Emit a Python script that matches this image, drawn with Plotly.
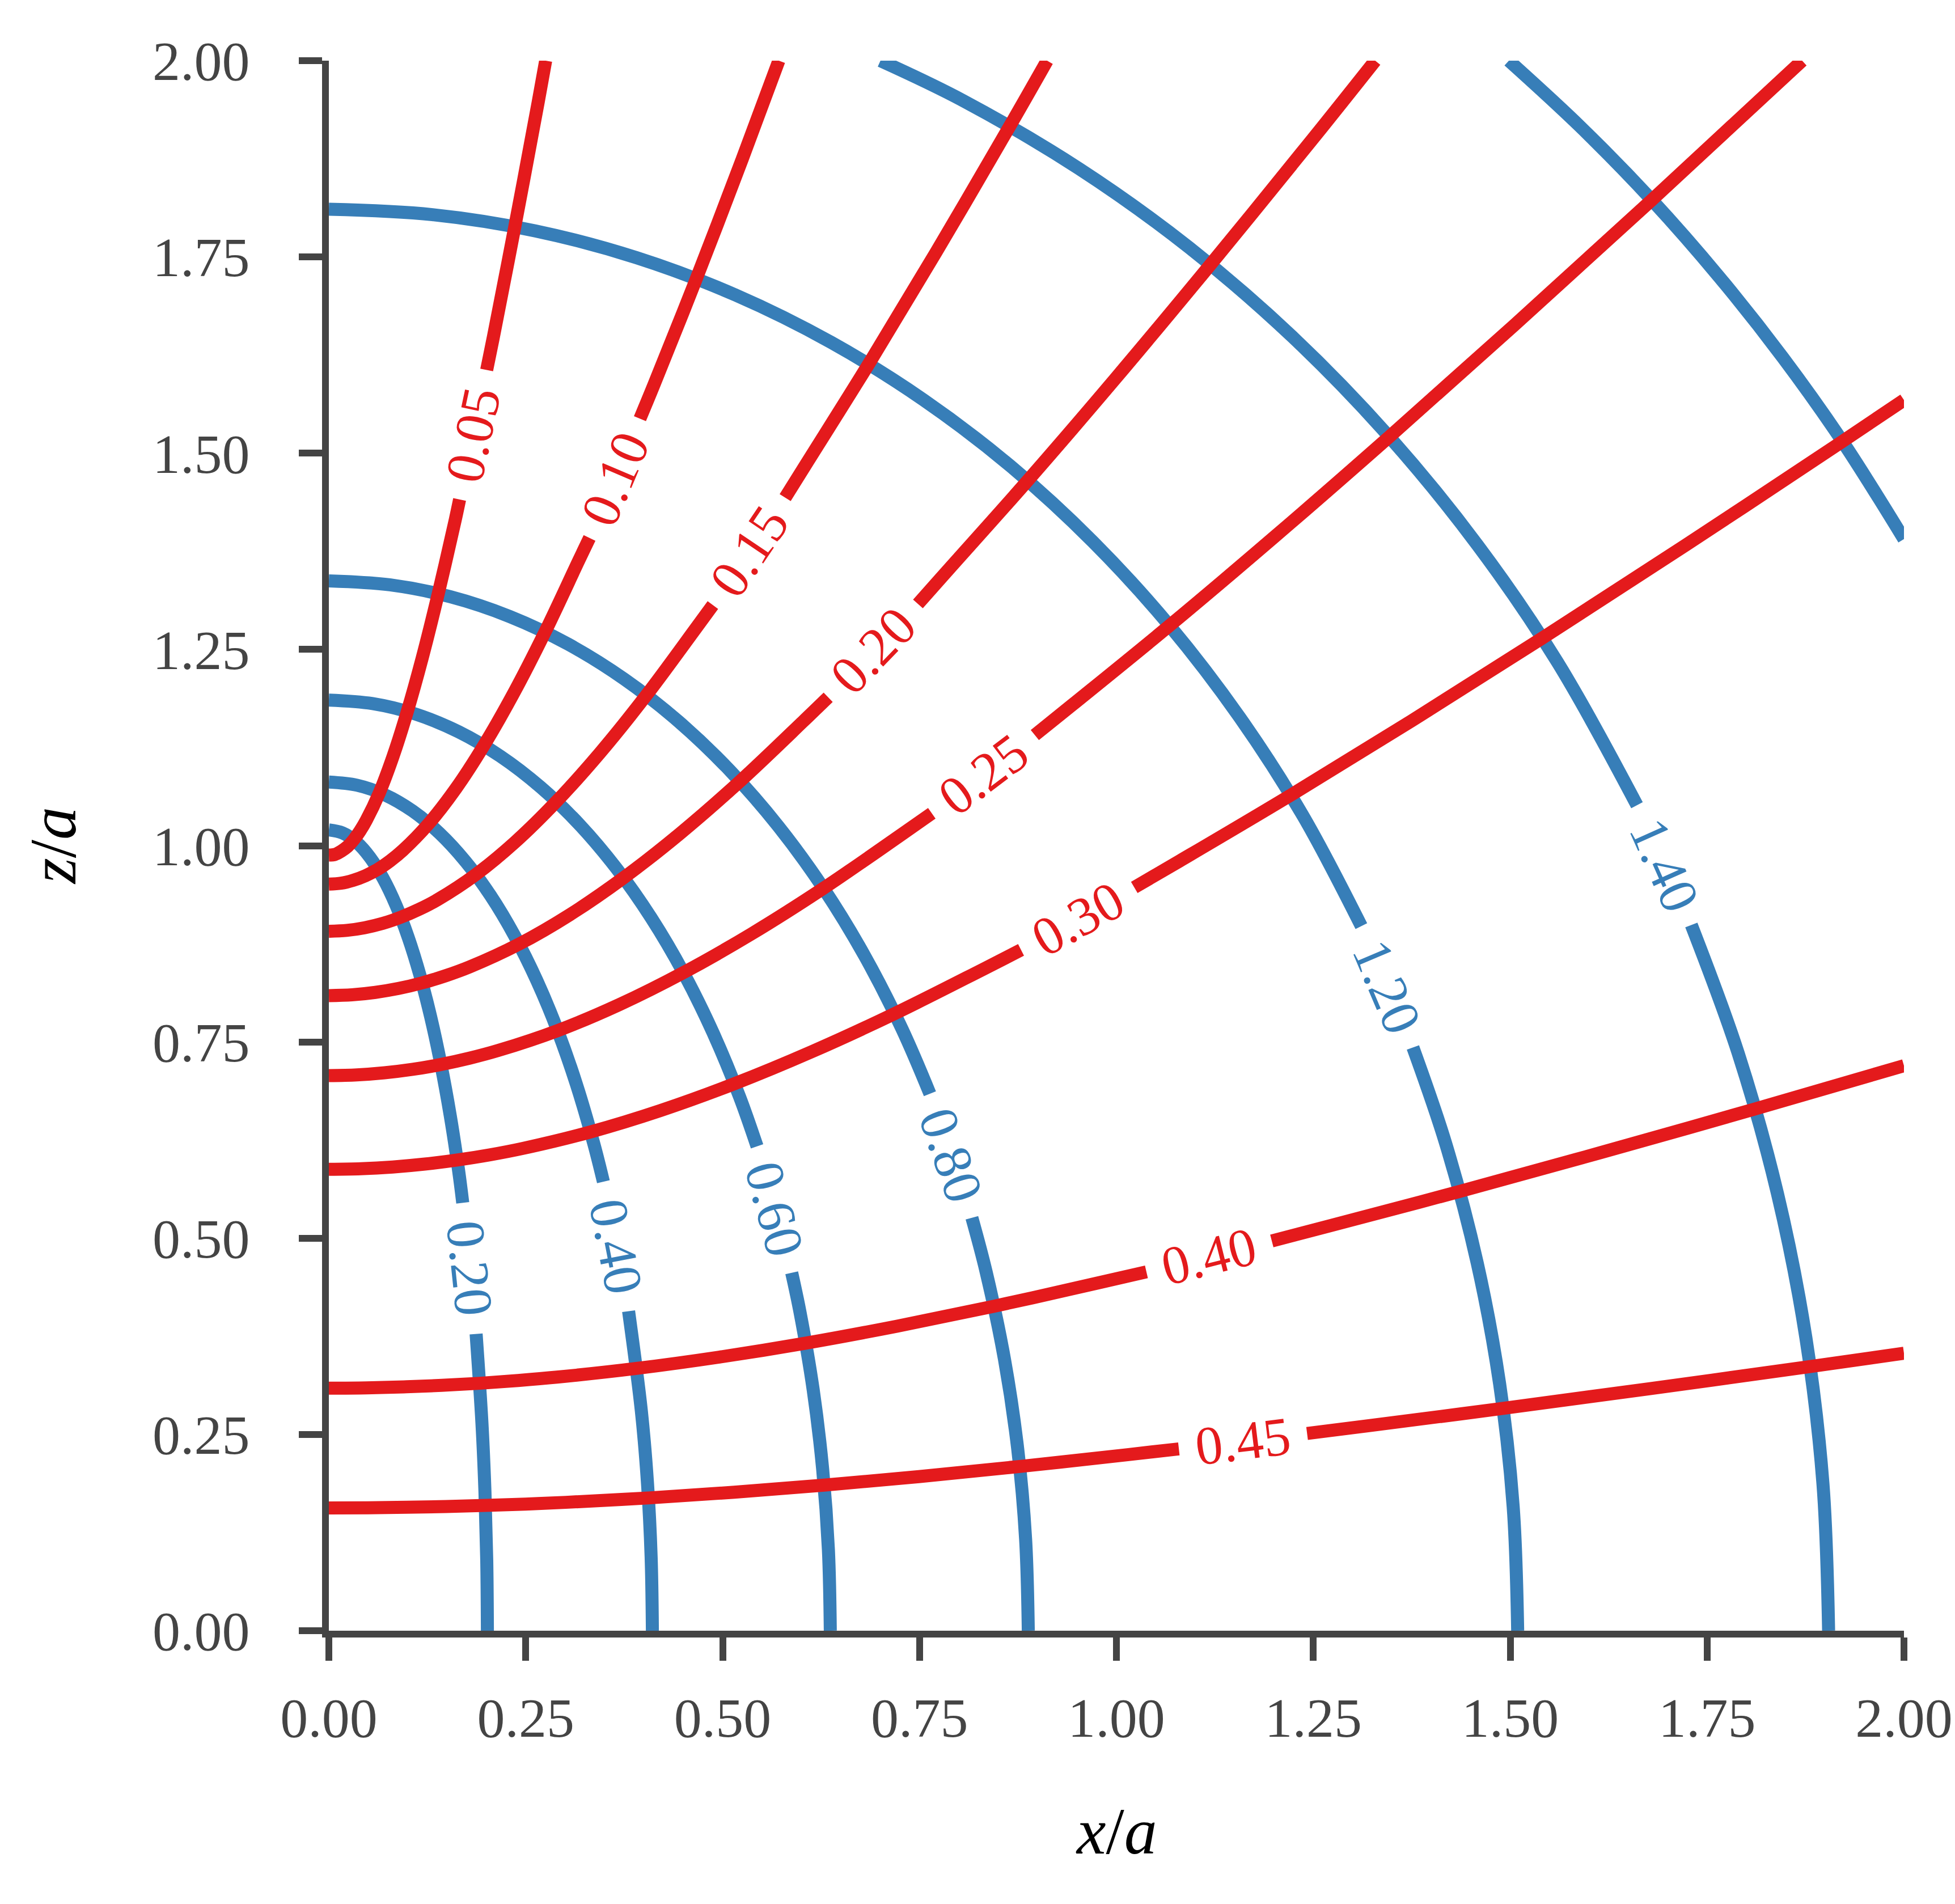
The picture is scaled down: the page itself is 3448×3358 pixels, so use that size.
import plotly.graph_objects as go

# couleurs des deux familles de courbes
RED = "#e41a1c"
BLUE = "#377eb8"
AXIS = "#444444"
FONT = "Liberation Serif, Times New Roman, serif"

# --- courbes rouges, None = trou pour l'étiquette ---
red_005_x = [0, 0.0078, 0.0157, 0.0236, 0.0315, 0.0395, 0.0476, 0.0643, 0.0815, 0.0996, 0.1187, 0.1389, 0.1606, 0.166, None, 0.2004, 0.2089, 0.2361, 0.2657, 0.2753]
red_005_z = [0.988, 0.9889, 0.993, 0.9988, 1.0075, 1.0187, 1.0325, 1.0678, 1.1137, 1.1709, 1.2397, 1.3210, 1.4155, 1.441, None, 1.606, 1.6480, 1.7884, 1.9467, 2.0]

red_010_x = [0, 0.0155, 0.031, 0.0465, 0.0622, 0.0781, 0.0941, 0.1269, 0.1610, 0.1967, 0.2344, 0.2744, 0.3172, 0.331, None, 0.395, 0.4127, 0.4665, 0.5248, 0.5714]
red_010_z = [0.951, 0.9522, 0.956, 0.9618, 0.970, 0.9809, 0.9942, 1.0282, 1.0724, 1.1275, 1.1937, 1.2720, 1.3630, 1.392, None, 1.544, 1.5869, 1.7220, 1.8744, 2.0]

red_015_x = [0, 0.0227, 0.0455, 0.0684, 0.0914, 0.1147, 0.1383, 0.1865, 0.2366, 0.2890, 0.3444, 0.4032, 0.4660, 0.4876, None, 0.5794, 0.6064, 0.6853, 0.7711, 0.8645, 0.912]
red_015_z = [0.891, 0.8921, 0.8955, 0.9010, 0.9089, 0.9190, 0.9314, 0.9632, 1.0047, 1.0563, 1.1184, 1.1917, 1.2769, 1.3065, None, 1.4434, 1.4867, 1.6133, 1.7561, 1.9165, 2.0]

red_020_x = [0, 0.0294, 0.0589, 0.0885, 0.1183, 0.1485, 0.1790, 0.2414, 0.3063, 0.3742, 0.4459, 0.5220, 0.6034, 0.634, None, 0.748, 0.7851, 0.8872, 0.9983, 1.1193, 1.2516, 1.3286]
red_020_z = [0.809, 0.8100, 0.8131, 0.8181, 0.8252, 0.8344, 0.8457, 0.8746, 0.9123, 0.9591, 1.0155, 1.0820, 1.1594, 1.189, None, 1.308, 1.3499, 1.4649, 1.5945, 1.7401, 1.9032, 2.0]

red_025_x = [0, 0.0354, 0.0708, 0.1065, 0.1424, 0.1786, 0.2153, 0.2904, 0.3685, 0.4502, 0.5364, 0.6280, 0.7259, 0.7656, None, 0.8964, 0.9445, 1.0674, 1.2009, 1.3465, 1.5056, 1.6798, 1.8707]
red_025_z = [0.7071, 0.7080, 0.7107, 0.7151, 0.7213, 0.7293, 0.7392, 0.7644, 0.7974, 0.8383, 0.8875, 0.9457, 1.0134, 1.0413, None, 1.1409, 1.1798, 1.2803, 1.3936, 1.5209, 1.6634, 1.8225, 2.0]

red_030_x = [0, 0.0405, 0.0810, 0.1218, 0.1629, 0.2044, 0.2464, 0.3323, 0.4216, 0.5151, 0.6137, 0.7185, 0.8305, 0.8789, None, 1.0227, 1.0806, 1.2212, 1.3740, 1.5406, 1.7226, 1.9219, 2.0]
red_030_z = [0.5878, 0.5885, 0.5907, 0.5944, 0.5996, 0.6062, 0.6144, 0.6354, 0.6628, 0.6968, 0.7378, 0.7861, 0.8424, 0.8672, None, 0.9468, 0.9807, 1.0643, 1.1585, 1.2643, 1.3827, 1.5150, 1.5677]

red_040_x = [0, 0.0476, 0.0953, 0.1432, 0.1915, 0.2402, 0.2896, 0.3906, 0.4956, 0.6055, 0.7214, 0.8446, 0.9763, 1.0381, None, 1.1973, 1.2703, 1.4356, 1.6153, 1.8111, 2.0]
red_040_z = [0.309, 0.3094, 0.3106, 0.3125, 0.3152, 0.3187, 0.3230, 0.3341, 0.3485, 0.3663, 0.3879, 0.4133, 0.4429, 0.4571, None, 0.4965, 0.5156, 0.5595, 0.6091, 0.6647, 0.7197]

red_045_x = [0, 0.0494, 0.0989, 0.1487, 0.1989, 0.2495, 0.3008, 0.4057, 0.5147, 0.6288, 0.7492, 0.8772, 1.0139, 1.0793, None, 1.2421, 1.3192, 1.4909, 1.6775, 1.8809, 2.0]
red_045_z = [0.1564, 0.1566, 0.1572, 0.1582, 0.1596, 0.1613, 0.1635, 0.1691, 0.1764, 0.1854, 0.1963, 0.2092, 0.2242, 0.2316, None, 0.2512, 0.2610, 0.2832, 0.3083, 0.3365, 0.3534]

# --- courbes bleues ---
blue_020_x = [0, 0.0175, 0.0350, 0.0521, 0.0688, 0.0851, 0.1007, 0.1155, 0.1294, 0.1423, 0.1542, 0.1649, 0.170, None,
              0.187, 0.1944, 0.1982, 0.2005, 0.2013]
blue_020_z = [1.0201, 1.0162, 1.0046, 0.9853, 0.9586, 0.9245, 0.8834, 0.8356, 0.7814, 0.7213, 0.6557, 0.5851, 0.545, None,
              0.378, 0.2640, 0.1771, 0.0889, 0]

blue_040_x = [0, 0.0358, 0.0713, 0.1063, 0.1405, 0.1736, 0.2054, 0.2356, 0.2641, 0.2905, 0.3147, 0.3365, 0.3486, None,
              0.3806, 0.3968, 0.4046, 0.4092, 0.4108]
blue_040_z = [1.0811, 1.0770, 1.0647, 1.0443, 1.0159, 0.9798, 0.9363, 0.8856, 0.8282, 0.7645, 0.6949, 0.6201, 0.572, None,
              0.407, 0.2798, 0.1877, 0.0942, 0]

blue_060_x = [0, 0.0555, 0.1106, 0.1648, 0.2178, 0.2691, 0.3184, 0.3652, 0.4093, 0.4502, 0.4877, 0.5216, 0.5437, None,
              0.5877, 0.5983, 0.6150, 0.6270, 0.6343, 0.6367]
blue_060_z = [1.1855, 1.1810, 1.1675, 1.1451, 1.1140, 1.0744, 1.0267, 0.9711, 0.9081, 0.8383, 0.7620, 0.6800, 0.617, None,
              0.456, 0.4055, 0.3068, 0.2059, 0.1033, 0]

blue_080_x = [0, 0.0774, 0.1542, 0.2299, 0.3037, 0.3753, 0.4441, 0.5094, 0.5709, 0.6280, 0.6803, 0.7275, 0.7632, None,
              0.8165, 0.8345, 0.8578, 0.8746, 0.8847, 0.8881]
blue_080_z = [1.3374, 1.3323, 1.3171, 1.2918, 1.2568, 1.2121, 1.1582, 1.0955, 1.0245, 0.9457, 0.8597, 0.7671, 0.684, None,
              0.526, 0.4574, 0.3461, 0.2322, 0.1166, 0]

blue_120_x = [0, 0.1316, 0.2621, 0.3907, 0.5163, 0.6379, 0.7548, 0.8659, 0.9703, 1.0674, 1.1563, 1.2366, 1.311, None,
              1.3765, 1.4185, 1.4581, 1.4866, 1.5038, 1.5095]
blue_120_z = [1.8107, 1.8038, 1.7832, 1.7490, 1.7015, 1.6411, 1.5681, 1.4833, 1.3871, 1.2804, 1.1639, 1.0386, 0.8975, None,
              0.743, 0.6193, 0.4686, 0.3144, 0.1579, 0]

blue_140_x = [0.7004, 0.8048, 0.9522, 1.0923, 1.2241, 1.3465, 1.4588, 1.5600, 1.661, None, 1.730, 1.7895, 1.8394, 1.8754, 1.8971, 1.9043]
blue_140_z = [2.0, 1.9494, 1.8627, 1.7620, 1.6477, 1.5209, 1.3826, 1.2338, 1.0516, None, 0.899, 0.7356, 0.5567, 0.3735, 0.1876, 0]

blue_160_x = [1.4983, 1.5895, 1.6798, 1.7653, 1.8461, 1.9219, 2.0]
blue_160_z = [2.0, 1.9154, 1.8226, 1.7246, 1.6220, 1.5150, 1.3906]

# --- étiquettes des niveaux ---
red_labels = ["0.05", "0.10", "0.15", "0.20", "0.25", "0.30", "0.40", "0.45"]
red_label_x = [0.1832, 0.3632, 0.5335, 0.6908, 0.8310, 0.9508, 1.1177, 1.1607]
red_label_z = [1.5235, 1.4676, 1.3749, 1.2484, 1.0911, 0.9070, 0.4768, 0.2414]
red_label_angle = [-78, -67, -56, -46, -37, -29, -14, -7]

blue_labels = ["0.20", "0.40", "0.60", "0.80", "1.20", "1.40"]
blue_label_x = [0.1790, 0.3650, 0.5660, 0.7900, 1.3440, 1.6960]
blue_label_z = [0.4620, 0.4895, 0.5370, 0.6055, 0.8205, 0.9755]
blue_label_angle = [84, 79, 75, 71, 67, 66]

tick_vals = [0, 0.25, 0.5, 0.75, 1.0, 1.25, 1.5, 1.75, 2.0]
tick_text = ["0.00", "0.25", "0.50", "0.75", "1.00", "1.25", "1.50", "1.75", "2.00"]


def add_curve(fig, xs, zs, color):
    fig.add_trace(go.Scatter(x=xs, y=zs, mode="lines",
                             line=dict(color=color, width=23, shape="spline", smoothing=1.0),
                             hoverinfo="skip", showlegend=False))


fig = go.Figure()

blue_curves = [(blue_020_x, blue_020_z), (blue_040_x, blue_040_z), (blue_060_x, blue_060_z),
               (blue_080_x, blue_080_z), (blue_120_x, blue_120_z), (blue_140_x, blue_140_z),
               (blue_160_x, blue_160_z)]
red_curves = [(red_005_x, red_005_z), (red_010_x, red_010_z), (red_015_x, red_015_z),
              (red_020_x, red_020_z), (red_025_x, red_025_z), (red_030_x, red_030_z),
              (red_040_x, red_040_z), (red_045_x, red_045_z)]

# le bleu d'abord, le rouge passe par-dessus aux croisements
for xs, zs in blue_curves:
    add_curve(fig, xs, zs, BLUE)
for xs, zs in red_curves:
    add_curve(fig, xs, zs, RED)

annotations = []
for txt, xx, zz, ang in zip(red_labels, red_label_x, red_label_z, red_label_angle):
    annotations.append(dict(x=xx, y=zz, xref="x", yref="y", text=txt, showarrow=False,
                            textangle=ang, xanchor="center", yanchor="middle",
                            font=dict(family=FONT, size=96, color=RED)))
for txt, xx, zz, ang in zip(blue_labels, blue_label_x, blue_label_z, blue_label_angle):
    annotations.append(dict(x=xx, y=zz, xref="x", yref="y", text=txt, showarrow=False,
                            textangle=ang, xanchor="center", yanchor="middle",
                            font=dict(family=FONT, size=96, color=BLUE)))

# titres des axes
annotations.append(dict(x=0.5, y=-0.128, xref="paper", yref="paper", text="<i>x</i>/<i>a</i>",
                        showarrow=False, xanchor="center", yanchor="middle",
                        font=dict(family=FONT, size=116, color="black")))
annotations.append(dict(x=-0.175, y=0.5, xref="paper", yref="paper", text="<i>z</i>/<i>a</i>",
                        showarrow=False, textangle=-90, xanchor="center", yanchor="middle",
                        font=dict(family=FONT, size=116, color="black")))

axis_style = dict(range=[0, 2], tickvals=tick_vals, ticktext=tick_text,
                  ticks="outside", ticklen=41, tickwidth=12, tickcolor=AXIS,
                  showline=True, linecolor=AXIS, linewidth=12,
                  showgrid=False, zeroline=False,
                  tickfont=dict(family=FONT, size=98, color=AXIS))

fig.update_layout(
    width=3448, height=3358,
    margin=dict(l=572, r=86, t=99, b=490),
    plot_bgcolor="white", paper_bgcolor="white",
    xaxis=dict(**axis_style, ticklabelstandoff=16),
    yaxis=dict(**axis_style, ticklabelstandoff=67),
    annotations=annotations,
)

fig.write_html("out.html")
